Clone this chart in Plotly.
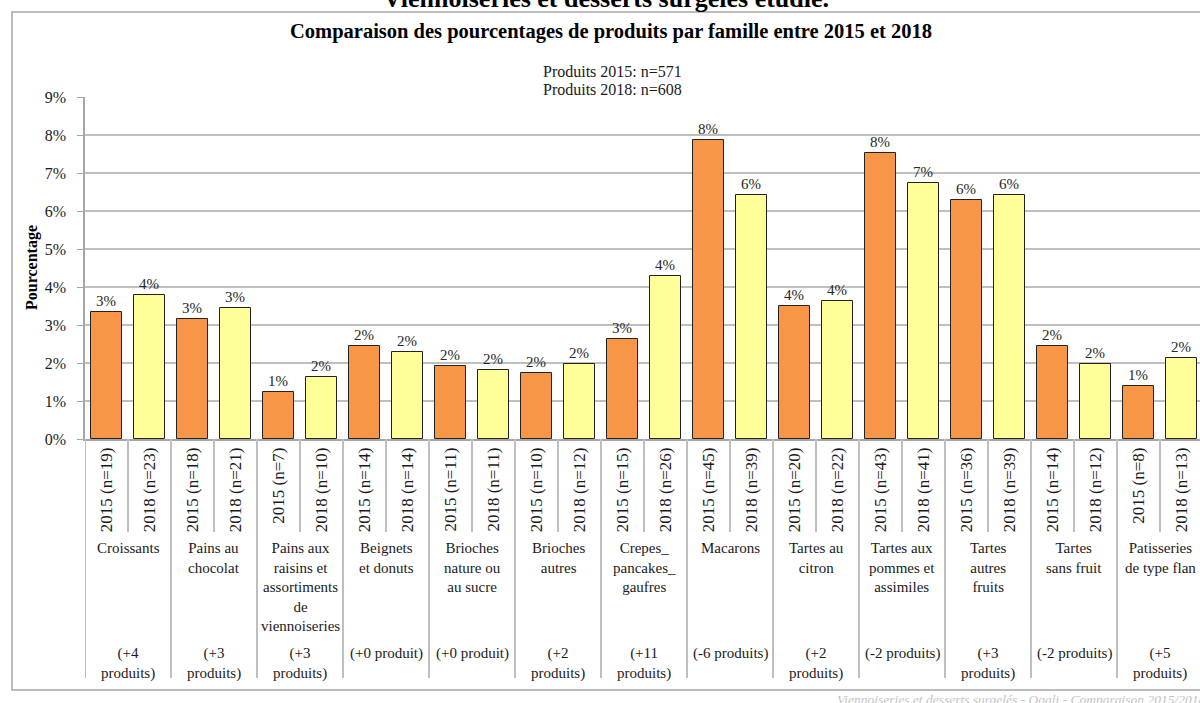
import plotly.graph_objects as go

familles = [
    "Croissants", "Pains au<br>chocolat", "Pains aux<br>raisins et<br>assortiments<br>de<br>viennoiseries",
    "Beignets<br>et donuts", "Brioches<br>nature ou<br>au sucre", "Brioches<br>autres",
    "Crepes_<br>pancakes_<br>gaufres", "Macarons", "Tartes au<br>citron", "Tartes aux<br>pommes et<br>assimiles",
    "Tartes<br>autres<br>fruits", "Tartes<br>sans fruit", "Patisseries<br>de type flan",
]
evolution = [
    "(+4<br>produits)", "(+3<br>produits)", "(+3<br>produits)", "(+0 produit)", "(+0 produit)",
    "(+2<br>produits)", "(+11<br>produits)", "(-6 produits)", "(+2<br>produits)", "(-2 produits)",
    "(+3<br>produits)", "(-2 produits)", "(+5<br>produits)",
]
n_2015 = [19, 18, 7, 14, 11, 10, 15, 45, 20, 43, 36, 14, 8]
n_2018 = [23, 21, 10, 14, 11, 12, 26, 39, 22, 41, 39, 12, 13]
pct_2015 = [3.33, 3.15, 1.23, 2.45, 1.93, 1.75, 2.63, 7.88, 3.50, 7.53, 6.30, 2.45, 1.40]
pct_2018 = [3.78, 3.45, 1.64, 2.30, 1.81, 1.97, 4.28, 6.41, 3.62, 6.74, 6.41, 1.97, 2.14]

FONT = "Liberation Serif"
W, H = 1200, 703
LEFT = 85
TOP, BOTTOM = 97, 439


def py(p):
    # pixel row -> paper y
    return (BOTTOM - p) / (BOTTOM - TOP)


def px(p):
    # pixel column -> paper x
    return (p - LEFT) / (W - LEFT)


x15 = [2 * i for i in range(len(familles))]
x18 = [2 * i + 1 for i in range(len(familles))]

fig = go.Figure()
fig.add_trace(go.Bar(
    x=x15, y=pct_2015, width=0.72,
    marker=dict(color="#F79646", line=dict(color="#222222", width=1)),
    text=[f"{round(v):.0f}%" for v in pct_2015], textposition="outside",
    textfont=dict(family=FONT, size=15, color="#262626"), cliponaxis=False,
))
fig.add_trace(go.Bar(
    x=x18, y=pct_2018, width=0.72,
    marker=dict(color="#FFFF99", line=dict(color="#222222", width=1)),
    text=[f"{round(v):.0f}%" for v in pct_2018], textposition="outside",
    textfont=dict(family=FONT, size=15, color="#262626"), cliponaxis=False,
))

tickvals = []
ticktext = []
for i in range(len(familles)):
    tickvals += [x15[i], x18[i]]
    ticktext += [f"2015 (n={n_2015[i]})", f"2018 (n={n_2018[i]})"]

sep = dict(color="#BFBFBF", width=2)
shapes = []
for i in range(len(familles)):
    shapes.append(dict(type="line", xref="x", yref="paper", x0=2 * i - 0.5, x1=2 * i - 0.5,
                       y0=py(439), y1=py(678), line=sep))
    shapes.append(dict(type="line", xref="x", yref="paper", x0=2 * i + 0.5, x1=2 * i + 0.5,
                       y0=py(439), y1=py(532), line=sep))
# chart border
shapes.append(dict(type="rect", xref="paper", yref="paper", x0=px(12), x1=1.01,
                   y0=py(690), y1=py(12), line=dict(color="#A6A6A6", width=1.5)))

annotations = []
for i in range(len(familles)):
    annotations.append(dict(x=2 * i + 0.5, y=py(538), xref="x", yref="paper", text=familles[i],
                            showarrow=False, xanchor="center", yanchor="top", align="center",
                            font=dict(family=FONT, size=15, color="#1a1a1a")))
    annotations.append(dict(x=2 * i + 0.5, y=py(643), xref="x", yref="paper", text=evolution[i],
                            showarrow=False, xanchor="center", yanchor="top", align="center",
                            font=dict(family=FONT, size=15, color="#1a1a1a")))

annotations += [
    dict(x=px(606), y=py(-2), xref="paper", yref="paper", xanchor="center", yanchor="middle",
         text="<b>Viennoiseries et desserts surgelés étudié.</b>", showarrow=False,
         font=dict(family=FONT, size=26, color="black")),
    dict(x=px(611), y=py(32), xref="paper", yref="paper", xanchor="center", yanchor="middle",
         text="<b>Comparaison des pourcentages de produits par famille entre 2015 et 2018</b>",
         showarrow=False, font=dict(family=FONT, size=20.5, color="black")),
    dict(x=px(612), y=py(72), xref="paper", yref="paper", xanchor="center", yanchor="middle",
         text="Produits 2015: n=571", showarrow=False,
         font=dict(family=FONT, size=16, color="#1a1a1a")),
    dict(x=px(612), y=py(89), xref="paper", yref="paper", xanchor="center", yanchor="middle",
         text="Produits 2018: n=608", showarrow=False,
         font=dict(family=FONT, size=16, color="#1a1a1a")),
    dict(x=px(32), y=0.5, xref="paper", yref="paper", xanchor="center", yanchor="middle",
         textangle=-90, text="<b>Pourcentage</b>", showarrow=False,
         font=dict(family=FONT, size=16, color="black")),
    dict(x=px(1207), y=py(699), xref="paper", yref="paper", xanchor="right", yanchor="middle",
         text="<i>Viennoiseries et desserts surgelés - Oqali - Comparaison 2015/2018</i>",
         showarrow=False, font=dict(family=FONT, size=13.5, color="#C4C4C4")),
]

fig.update_layout(
    width=W, height=H,
    margin=dict(l=LEFT, r=0, t=TOP, b=H - BOTTOM),
    plot_bgcolor="white", paper_bgcolor="white",
    showlegend=False, bargap=0,
    shapes=shapes, annotations=annotations,
    font=dict(family=FONT),
)
fig.update_xaxes(
    range=[-0.5, 2 * len(familles) - 0.5 - 3 / 43], tickvals=tickvals, ticktext=ticktext,
    tickangle=-90, ticks="", showgrid=False, zeroline=False,
    showline=True, linecolor="#A6A6A6", linewidth=1.5,
    tickfont=dict(family=FONT, size=17, color="#1a1a1a"),
)
fig.update_yaxes(
    range=[0, 9], dtick=1, ticksuffix="%", showgrid=True, gridcolor="#BFBFBF", gridwidth=1.5,
    zeroline=False, showline=True, linecolor="#A6A6A6", linewidth=1.5,
    ticks="outside", ticklen=6, tickcolor="#A6A6A6", ticklabelstandoff=8,
    tickfont=dict(family=FONT, size=16, color="#1a1a1a"),
)

# no page margin, so the figure starts at the window's top-left corner
fig.write_html("out.html", config={"displayModeBar": False},
               post_script="document.body.style.margin='0';")
